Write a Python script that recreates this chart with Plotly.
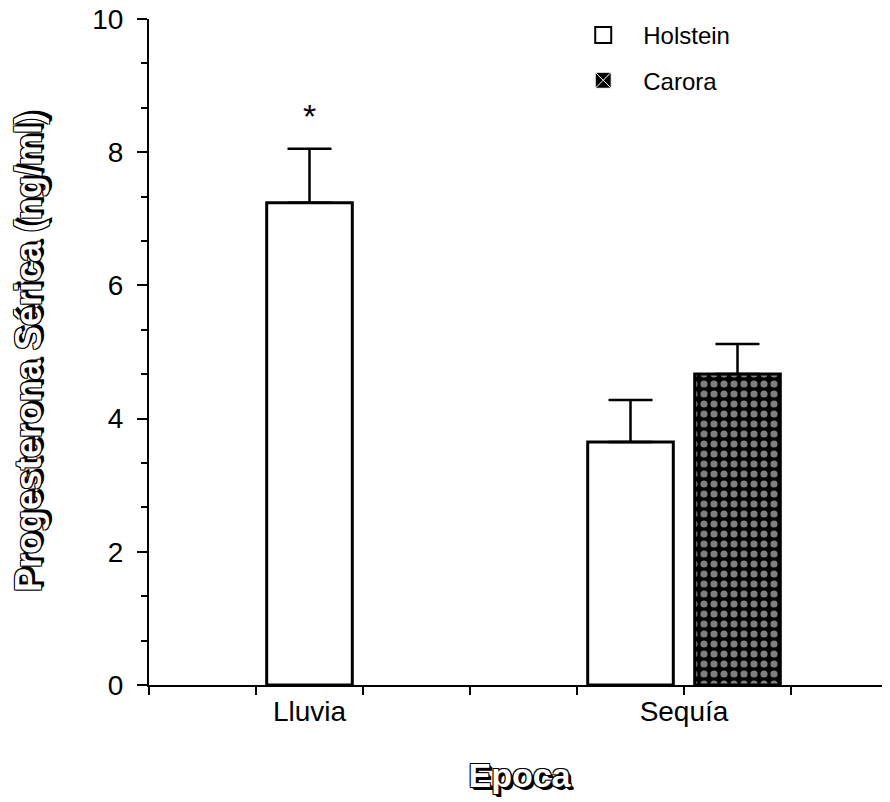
import plotly.graph_objects as go

# ---- data ----
categories = ["Lluvia", "Sequía"]
holstein = [7.24, 3.65]
holstein_err = [0.81, 0.63]
carora = [None, 4.67]
carora_err = [None, 0.45]
asterisk_y = 8.56
y_ticks = [0, 2, 4, 6, 8, 10]

# ---- layout helpers (group positions on a numeric axis) ----
group_center = {"Lluvia": 1.5, "Sequía": 5.0}
bar_w = 0.8

def positions(series_idx):
    xs = []
    for i, c in enumerate(categories):
        both = holstein[i] is not None and carora[i] is not None
        off = (-0.5 if series_idx == 0 else 0.5) if both else 0.0
        xs.append(group_center[c] + off)
    return xs

hx = positions(0)
cx = positions(1)

outline = ("-1px -1px 0 #000, 1px -1px 0 #000, -1px 1px 0 #000, 1px 1px 0 #000, "
           "2px 2px 0 #000, 3px 3px 0 #000")

fig = go.Figure()
fig.add_trace(go.Bar(
    x=hx, y=holstein, width=bar_w, name="Holstein", showlegend=False,
    marker=dict(color="white", line=dict(color="black", width=3)),
    error_y=dict(type="data", symmetric=False, array=holstein_err,
                 arrayminus=[0] * len(holstein), color="black", thickness=2.5, width=22),
))
fig.add_trace(go.Bar(
    x=cx, y=carora, width=bar_w, name="Carora", showlegend=False,
    marker=dict(color="black", line=dict(color="black", width=3),
                pattern=dict(shape=".", fgcolor="white", bgcolor="black", size=10, solidity=0.4)),
    error_y=dict(type="data", symmetric=False, array=carora_err,
                 arrayminus=[0] * len(carora), color="black", thickness=2.5, width=22),
))
# legend-only entries
fig.add_trace(go.Scatter(x=[None], y=[None], mode="markers", name="Holstein",
                         legendgroup="h",
                         marker=dict(symbol="square", size=16, color="white",
                                     line=dict(color="black", width=2))))
fig.add_trace(go.Scatter(x=[None], y=[None], mode="markers", name="Carora",
                         legendgroup="c",
                         marker=dict(symbol="square-x", size=16, color="black",
                                     line=dict(color="white", width=1))))

fig.add_annotation(x=group_center["Lluvia"], y=asterisk_y, text="*", showarrow=False,
                   font=dict(family="Liberation Sans", size=34, color="black"),
                   yanchor="middle", yshift=-1)

x_max = 741 / 107
fig.update_layout(
    width=890, height=802,
    margin=dict(l=141, r=8, t=11, b=125, autoexpand=False),
    plot_bgcolor="white", paper_bgcolor="white",
    font=dict(family="Liberation Sans", color="black"),
    barmode="overlay",
    legend=dict(x=0.559, y=0.9938, xanchor="left", yanchor="top", yref="container",
                font=dict(family="Liberation Sans", size=24, color="black"),
                traceorder="grouped", tracegroupgap=11, itemwidth=70,
                bgcolor="rgba(0,0,0,0)"),
    xaxis=dict(range=[0, x_max], showline=True, linewidth=2, linecolor="black",
               showgrid=False, zeroline=False,
               tickmode="array", tickvals=[group_center[c] for c in categories],
               ticktext=categories, ticks="",
               tickfont=dict(family="Liberation Sans", size=28),
               minor=dict(tickmode="linear", tick0=0, dtick=1, ticks="outside",
                          ticklen=8, tickwidth=2, tickcolor="black", showgrid=False),
               title=dict(text="Epoca", standoff=38,
                          font=dict(family="Liberation Sans", size=34, weight="bold",
                                    color="white", shadow=outline)),
               automargin=False),
    yaxis=dict(range=[0, 10], showline=True, linewidth=2, linecolor="black",
               showgrid=False, zeroline=False,
               tickmode="array", tickvals=y_ticks, ticks="outside", ticklen=10,
               tickwidth=2, tickcolor="black", ticklabelstandoff=8,
               ticklabeloverflow="allow",
               tickfont=dict(family="Liberation Sans", size=28),
               minor=dict(tickmode="linear", tick0=0, dtick=2 / 3, ticks="outside",
                          ticklen=6, tickwidth=2, tickcolor="black", showgrid=False),
               title=dict(text="Progesterona Sérica (ng/ml)", standoff=42,
                          font=dict(family="Liberation Sans", size=36, weight="bold",
                                    color="white", shadow=outline)),
               automargin=False),
)
fig.write_html("out.html")
